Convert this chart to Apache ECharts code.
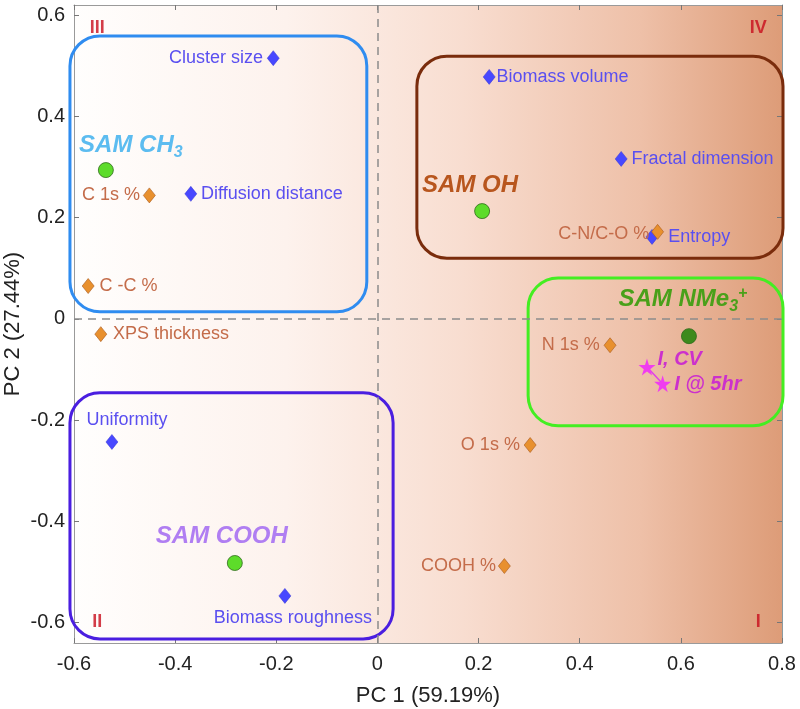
<!DOCTYPE html>
<html>
<head>
<meta charset="utf-8">
<script src="https://cdn.jsdelivr.net/npm/echarts@6/dist/echarts.min.js"></script>
<style>html,body{margin:0;padding:0;background:#fff}#c{width:800px;height:709px}</style>
</head>
<body>
<div id="c"></div>
<script>
// ---- data ----
const xTicks = [-0.6, -0.4, -0.2, 0, 0.2, 0.4, 0.6, 0.8];
const yTicks = [-0.6, -0.4, -0.2, 0, 0.2, 0.4, 0.6];
const samNames = ['SAM CH3', 'SAM OH', 'SAM NMe3+', 'SAM COOH'];
const samX = [-0.537, 0.207, 0.616, -0.282];
const samY = [0.294, 0.213, -0.034, -0.482];
const bioNames = ['Cluster size', 'Diffusion distance', 'Biomass volume', 'Fractal dimension', 'Entropy', 'Uniformity', 'Biomass roughness'];
const bioX = [-0.206, -0.369, 0.221, 0.482, 0.543, -0.525, -0.183];
const bioY = [0.515, 0.247, 0.478, 0.316, 0.162, -0.243, -0.547];
const xpsNames = ['C 1s %', 'C -C %', 'XPS thickness', 'C-N/C-O %', 'N 1s %', 'O 1s %', 'COOH %'];
const xpsX = [-0.451, -0.572, -0.547, 0.554, 0.460, 0.302, 0.251];
const xpsY = [0.244, 0.065, -0.030, 0.172, -0.052, -0.249, -0.488];
const starNames = ['I, CV', 'I @ 5hr'];
const starX = [0.533, 0.564];
const starY = [-0.095, -0.128];
const quadNames = ['III', 'IV', 'II', 'I'];
const quadX = [-0.554, 0.753, -0.554, 0.753];
const quadY = [0.575, 0.575, -0.598, -0.598];
// group outlines: [x0, y0, x1, y1]
const groupBoxes = [
  [-0.608, 0.014, -0.021, 0.559],
  [0.078, 0.120, 0.802, 0.519],
  [0.298, -0.211, 0.802, 0.081],
  [-0.608, -0.632, 0.031, -0.146]
];
const xRange = [-0.6, 0.8];
const yRange = [-0.64, 0.62];

// ---- styles ----
const FONT = '"Liberation Sans", Arial, sans-serif';
const boxColors = ['#2f8cf0', '#7a2c0c', '#44ee22', '#4a1ee0'];
const BLUE_LBL = '#5a4ff0';
const ORANGE_LBL = '#c46c4a';
const bioLabel = {
  'Cluster size': {position: 'left', distance: 4},
  'Diffusion distance': {position: 'right', distance: 4},
  'Biomass volume': {position: 'right', distance: 1},
  'Fractal dimension': {position: 'right', distance: 4},
  'Entropy': {position: 'right', distance: 10},
  'Uniformity': {position: 'top', distance: 5, offset: [15, 0]},
  'Biomass roughness': {position: 'bottom', distance: 5, offset: [8, 0]}
};
const xpsLabel = {
  'C 1s %': {position: 'left', distance: 3},
  'C -C %': {position: 'right', distance: 5},
  'XPS thickness': {position: 'right', distance: 6},
  'C-N/C-O %': {position: 'left', distance: 2, offset: [0, 2]},
  'N 1s %': {position: 'left', distance: 4},
  'O 1s %': {position: 'left', distance: 4},
  'COOH %': {position: 'left', distance: 2}
};
const samStyle = {
  'SAM CH3': {color: '#5cbcf0', text: '{b|SAM CH}{sub|3}', offset: [25, 0], distance: 2, fill: '#5ddc2a'},
  'SAM OH': {color: '#b8561e', text: '{b|SAM OH}', offset: [-12, 0], distance: 6, fill: '#5ddc2a'},
  'SAM NMe3+': {color: '#4aa01a', text: '{b|SAM NMe}{sub|3}{sup|+}', offset: [-6, 0], distance: 14, fill: '#3d8a1c'},
  'SAM COOH': {color: '#b07ef2', text: '{b|SAM COOH}', offset: [-13, 0], distance: 7, fill: '#5ddc2a'}
};
const STAR = 'path://M50,0 L61,35 L98,35 L68,57 L79,91 L50,70 L21,91 L32,57 L2,35 L39,35 Z';

function richFor(color) {
  const base = {color: color, fontFamily: FONT, fontWeight: 'bold', fontStyle: 'italic'};
  return {
    b: Object.assign({fontSize: 24}, base),
    sub: Object.assign({fontSize: 16, padding: [14, 0, 0, 0]}, base),
    sup: Object.assign({fontSize: 16, padding: [0, 0, 12, 0]}, base)
  };
}

const chart = echarts.init(document.getElementById('c'), null, {renderer: 'canvas'});

const axisLineStyle = {show: true, onZero: false, lineStyle: {color: '#9a9a9a', width: 1}};
const tickStyle = {show: true, inside: true, length: 5, lineStyle: {color: '#777'}};
const fmt = v => String(Math.round(v * 10) / 10);

const option = {
  animation: false,
  backgroundColor: '#fff',
  grid: {left: 74, right: 18, top: 5, bottom: 66, containLabel: false, outerBoundsMode: 'none'},
  xAxis: [
    {type: 'value', position: 'bottom', min: xRange[0], max: xRange[1], interval: 0.2,
     name: 'PC 1 (59.19%)', nameLocation: 'middle', nameGap: 42, nameMoveOverlap: false,
     nameTextStyle: {fontFamily: FONT, fontSize: 22, color: '#222'},
     axisLine: axisLineStyle, axisTick: tickStyle, splitLine: {show: false},
     axisLabel: {fontFamily: FONT, fontSize: 20, color: '#222', margin: 11, formatter: fmt, showMinLabel: true, showMaxLabel: true, hideOverlap: false}},
    {type: 'value', position: 'top', min: xRange[0], max: xRange[1], interval: 0.2,
     axisLine: axisLineStyle, axisTick: tickStyle, splitLine: {show: false}, axisLabel: {show: false}}
  ],
  yAxis: [
    {type: 'value', position: 'left', min: yRange[0], max: yRange[1],
     name: 'PC 2 (27.44%)', nameLocation: 'middle', nameGap: 50, nameRotate: 90, nameMoveOverlap: false,
     nameTextStyle: {fontFamily: FONT, fontSize: 22, color: '#222'},
     axisLine: axisLineStyle,
     axisTick: Object.assign({customValues: yTicks}, tickStyle),
     splitLine: {show: false},
     axisLabel: {customValues: yTicks, fontFamily: FONT, fontSize: 20, color: '#222', margin: 9, formatter: fmt}},
    {type: 'value', position: 'right', min: yRange[0], max: yRange[1],
     axisLine: {show: true, onZero: false, lineStyle: {color: '#8a9aa0', width: 1}},
     axisTick: Object.assign({customValues: yTicks}, tickStyle),
     splitLine: {show: false}, axisLabel: {show: false}}
  ],
  series: [
    {
      type: 'custom', z: 0, silent: true, clip: false,
      data: [[xRange[0], yRange[0]]],
      renderItem: function (params, api) {
        const p0 = api.coord([xRange[0], yRange[1]]);
        const p1 = api.coord([xRange[1], yRange[0]]);
        return {
          type: 'rect',
          shape: {x: p0[0], y: p0[1], width: p1[0] - p0[0], height: p1[1] - p0[1]},
          style: {
            fill: new echarts.graphic.LinearGradient(0, 0, 1, 0, [
              {offset: 0, color: '#fffefd'},
              {offset: 0.3, color: '#fdf2ed'},
              {offset: 0.55, color: '#f8ddd0'},
              {offset: 0.8, color: '#eec0a8'},
              {offset: 1, color: '#dd9c78'}
            ]),
            stroke: null
          }
        };
      }
    },
    {
      type: 'scatter', z: 1, data: [], silent: true,
      markLine: {
        silent: true, symbol: 'none', animation: false,
        label: {show: false},
        lineStyle: {type: [8, 6], color: '#8c8c8c', width: 1.5},
        data: [{xAxis: 0}, {yAxis: 0}]
      }
    },
    {
      type: 'custom', z: 2, silent: true, clip: false,
      data: groupBoxes,
      renderItem: function (params, api) {
        const a = api.coord([api.value(0), api.value(3)]);
        const b = api.coord([api.value(2), api.value(1)]);
        return {
          type: 'rect',
          shape: {x: a[0], y: a[1], width: b[0] - a[0], height: b[1] - a[1], r: 30},
          style: {fill: null, stroke: boxColors[params.dataIndex], lineWidth: 3}
        };
      }
    },
    {
      type: 'scatter', z: 5,
      symbol: 'diamond', symbolSize: [12, 15],
      itemStyle: {color: '#4848ff', borderColor: '#3535d0', borderWidth: 0.5, opacity: 1},
      data: bioNames.map((n, i) => ({
        name: n, value: [bioX[i], bioY[i]],
        label: Object.assign({show: true, formatter: '{b}', color: BLUE_LBL, fontFamily: FONT, fontSize: 18}, bioLabel[n])
      }))
    },
    {
      type: 'scatter', z: 6,
      symbol: 'diamond', symbolSize: [12, 15],
      itemStyle: {color: '#e8902e', borderColor: '#a85a20', borderWidth: 0.6, opacity: 1},
      data: xpsNames.map((n, i) => ({
        name: n, value: [xpsX[i], xpsY[i]],
        label: Object.assign({show: true, formatter: '{b}', color: ORANGE_LBL, fontFamily: FONT, fontSize: 18}, xpsLabel[n])
      }))
    },
    {
      type: 'scatter', z: 6,
      symbol: 'circle', symbolSize: 15,
      data: samNames.map((n, i) => ({
        name: n, value: [samX[i], samY[i]],
        itemStyle: {color: samStyle[n].fill, borderColor: '#2f6a1a', borderWidth: 0.8, opacity: 1},
        label: {show: true, position: 'top', distance: samStyle[n].distance, offset: samStyle[n].offset,
                formatter: samStyle[n].text, rich: richFor(samStyle[n].color)}
      }))
    },
    {
      type: 'line', z: 7,
      symbol: STAR, symbolSize: 17, showSymbol: true,
      lineStyle: {color: '#e040e8', width: 1.5},
      itemStyle: {color: '#f03cf0', borderWidth: 0},
      data: starNames.map((n, i) => ({
        name: n, value: [starX[i], starY[i]],
        label: {show: true, position: 'right', distance: i === 0 ? 2 : 3, offset: i === 0 ? [0, -8] : [0, 1],
                formatter: '{b}', color: '#cc30cc', fontFamily: FONT, fontSize: 20, fontWeight: 'bold', fontStyle: 'italic'}
      }))
    },
    {
      type: 'scatter', z: 8, symbolSize: 0, silent: true,
      data: quadNames.map((n, i) => ({name: n, value: [quadX[i], quadY[i]]})),
      label: {show: true, position: 'inside', formatter: '{b}', color: '#c80c1c',
              fontFamily: '"Liberation Sans Narrow", "Liberation Sans", Arial, sans-serif', fontSize: 18, fontWeight: 'bold'}
    }
  ]
};
chart.setOption(option);
</script>
</body>
</html>
